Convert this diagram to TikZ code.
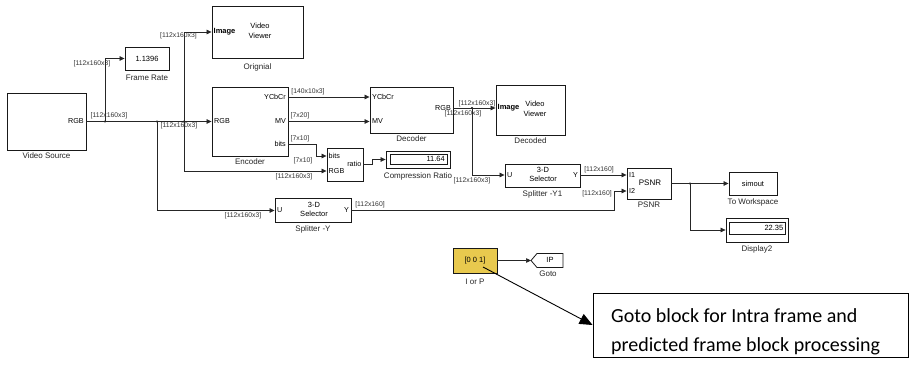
\documentclass[tikz,border=0pt]{standalone}
\usepackage{fontspec}
\setmainfont{Liberation Sans}
\newfontfamily\notefont{Carlito}
\usetikzlibrary{arrows.meta}
\definecolor{blockyellow}{RGB}{232,201,78}
\begin{document}
\begin{tikzpicture}[x=1pt,y=-1pt,
  blk/.style={draw=black!90, line width=0.9pt, inner sep=0pt},
  sig/.style={draw=black!85, line width=0.7pt, -{Triangle[length=5pt,width=4.5pt]}},
  wire/.style={draw=black!85, line width=0.7pt},
  lbl/.style={font=\fontsize{6.8}{7}\selectfont, text=black!80, inner sep=0pt},
  port/.style={font=\fontsize{7.2}{8}\selectfont, inner sep=0pt},
  bname/.style={font=\fontsize{8}{9}\selectfont, text=black!85, inner sep=0pt},
  jdot/.style={circle, fill=black, inner sep=0pt, minimum size=2.4pt},
  note/.style={font=\notefont\fontsize{20}{22}\selectfont, inner sep=0pt, anchor=base west},
]
\fill[white] (0,0) rectangle (912,374);
\useasboundingbox (0,0) rectangle (912,374);

% ---------------- blocks ----------------
\node[blk, minimum width=79pt, minimum height=57pt] (vsrc) at (46.5,121.5) {};
\node[port, anchor=east] (vsrcrgb) at (84,121.5) {RGB};
\node[bname] (vsrcname) at (46.5,156) {Video Source};

\node[blk, minimum width=44pt, minimum height=23pt, font=\fontsize{7.5}{8}\selectfont] (frate) at (147,58.5) {1.1396};
\node[bname] (fratename) at (147,77.5) {Frame Rate};

\node[blk, minimum width=91pt, minimum height=52pt] (vorig) at (257.5,32) {};
\node[port, anchor=west, font=\bfseries\fontsize{7.5}{8}\selectfont] (vorigimg) at (213.5,32) {Image};
\node[port, align=center, font=\fontsize{7.5}{10}\selectfont] (vorigtxt) at (260,31) {Video\\Viewer};
\node[bname] (vorigname) at (257.5,67) {Orignial};

\node[blk, minimum width=76pt, minimum height=69pt] (enc) at (250,121.5) {};
\node[port, anchor=west] (encrgb) at (214,121.5) {RGB};
\node[port, anchor=east] (encycc) at (286,97) {YCbCr};
\node[port, anchor=east] (encmv) at (286,121.5) {MV};
\node[port, anchor=east] (encbits) at (286,144) {bits};
\node[bname] (encname) at (250,162) {Encoder};

\node[blk, minimum width=83pt, minimum height=46pt] (dec) at (411.5,110) {};
\node[port, anchor=west] (decycc) at (372,97) {YCbCr};
\node[port, anchor=west] (decmv) at (372,121.5) {MV};
\node[port, anchor=east] (decrgb) at (451,108) {RGB};
\node[bname] (decname) at (411.5,139) {Decoder};

\node[blk, minimum width=69pt, minimum height=50pt] (vdec) at (530.5,110) {};
\node[port, anchor=west, font=\bfseries\fontsize{7.5}{8}\selectfont] (vdecimg) at (497.5,108) {Image};
\node[port, align=center, font=\fontsize{7.5}{10}\selectfont] (vdectxt) at (535,109) {Video\\Viewer};
\node[bname] (vdecname) at (530.5,141) {Decoded};

\node[blk, minimum width=36pt, minimum height=33pt] (cr) at (345,164.5) {};
\node[port, anchor=west] (crbits) at (328.5,156) {bits};
\node[port, anchor=west] (crrgb) at (328.5,171) {RGB};
\node[port, anchor=east] (crratio) at (361.5,164) {ratio};

\node[blk, line width=0.8pt, minimum width=64pt, minimum height=17pt] (crdisp) at (418,159.5) {};
\node[blk, line width=0.6pt, minimum width=57pt, minimum height=10pt] (crdispin) at (418.5,159.5) {};
\node[port, anchor=east, font=\fontsize{7.5}{8}\selectfont] (crval) at (445,159) {11.64};
\node[bname] (crname) at (418,176) {Compression Ratio};

\node[blk, minimum width=75pt, minimum height=23pt] (sy1) at (542.5,175.5) {};
\node[port, anchor=west] (sy1u) at (507,175) {U};
\node[port, anchor=east] (sy1y) at (578,175) {Y};
\node[port, align=center, font=\fontsize{7.5}{9}\selectfont] (sy1txt) at (543,174) {3-D\\Selector};
\node[bname] (sy1name) at (542.5,194) {Splitter -Y1};

\node[blk, minimum width=76pt, minimum height=24pt] (sy) at (313,210.5) {};
\node[port, anchor=west] (syu) at (277,210) {U};
\node[port, anchor=east] (syy) at (349,210) {Y};
\node[port, align=center, font=\fontsize{7.5}{9}\selectfont] (sytxt) at (314,209.5) {3-D\\Selector};
\node[bname] (syname) at (313,229) {Splitter -Y};

\node[blk, minimum width=44pt, minimum height=31pt] (psnr) at (649,183.5) {};
\node[port, anchor=west] (psnri1) at (629,175) {I1};
\node[port, anchor=west] (psnri2) at (629,191) {I2};
\node[port, font=\fontsize{8}{9}\selectfont] (psnrtxt) at (650,182.5) {PSNR};
\node[bname] (psnrname) at (649,205) {PSNR};

\node[blk, minimum width=48pt, minimum height=23pt, font=\fontsize{7.5}{8}\selectfont] (tows) at (753,183.5) {simout};
\node[bname] (towsname) at (753,202) {To Workspace};

\node[blk, line width=0.8pt, minimum width=62pt, minimum height=24pt] (disp2) at (757,230) {};
\node[blk, line width=0.6pt, minimum width=56pt, minimum height=12pt] (disp2in) at (757.5,228.5) {};
\node[port, anchor=east, font=\fontsize{7.5}{8}\selectfont] (disp2val) at (783.5,228) {22.35};
\node[bname] (disp2name) at (757,249) {Display2};

\node[blk, fill=blockyellow, minimum width=44pt, minimum height=25pt, font=\fontsize{7.5}{8}\selectfont] (iorp) at (475,260.5) {[0 0 1]};
\node[bname] (iorpname) at (475,281.5) {I or P};

% Goto tag
\coordinate (gotoin) at (531,260.5);
\draw[line width=0.8pt, draw=black!90] (gotoin) -- (537,253.5) -- (563,253.5) -- (563,267.5) -- (537,267.5) -- cycle;
\node[port, font=\fontsize{7.5}{8}\selectfont] (gototxt) at (550,259.5) {IP};
\node[bname] (gotoname) at (548,274) {Goto};

% Note box
\node[draw=black, line width=0.9pt, minimum width=315pt, minimum height=64pt, inner sep=0pt] (note) at (750.5,325) {};
\node[note] (noteA) at (611,322) {Goto block for Intra frame and};
\node[note] (noteB) at (611,351) {predicted frame block processing};

% ---------------- junctions ----------------
\coordinate (j1) at (105,121.5);
\coordinate (j2) at (157,121.5);
\coordinate (j3) at (184,121.5);
\coordinate (j4) at (472,108);
\coordinate (j5) at (690,183.5);
\node[jdot] (d1) at (j1) {};
\node[jdot] (d2) at (j2) {};
\node[jdot] (d3) at (j3) {};
\node[jdot] (d4) at (j4) {};
\node[jdot] (d5) at (j5) {};

% ---------------- signals ----------------
\draw[sig] (vsrc.east) -- (enc.west);
\draw[sig] (j1) -- (j1 |- frate.west) -- (frate.west);
\draw[sig] (j2) -- (j2 |- sy.west) -- (sy.west);
\draw[sig] (j3) -- (j3 |- vorig.west) -- (vorig.west);
\draw[sig] (j3) -- (184,171) -- (cr.west |- crrgb);

\draw[sig] (enc.east |- encycc) -- (dec.west |- decycc);
\draw[sig] (enc.east |- encmv) -- (dec.west |- decmv);
\draw[sig] (enc.east |- encbits) -- (316,144) -- (316,156) -- (cr.west |- crbits);
\draw[sig] (cr.east |- crratio) -- (372,164) -- (372,159.5) -- (crdisp.west);

\draw[wire] (dec.east |- decrgb) -- (j4);
\draw[sig] (j4) -- (vdec.west |- decrgb);
\draw[sig] (j4) -- (472,175) -- (sy1.west |- sy1u);

\draw[sig] (sy1.east |- sy1y) -- (psnr.west |- psnri1);
\draw[sig] (sy.east |- syy) -- (614,210) -- (614,191) -- (psnr.west |- psnri2);

\draw[wire] (psnr.east) -- (j5);
\draw[sig] (j5) -- (tows.west);
\draw[sig] (j5) -- (j5 |- disp2.west) -- (disp2.west);

\draw[sig] (iorp.east |- gotoin) -- (gotoin);
\draw[draw=black, line width=0.9pt, -{Triangle[length=13pt,width=11pt]}] (483,267) -- (note.west);

% ---------------- signal dimensions ----------------
\node[lbl] (s1) at (109,115.5) {[112x160x3]};
\node[lbl] (s2) at (92,64) {[112x160x3]};
\node[lbl] (s3) at (179,125.5) {[112x160x3]};
\node[lbl] (s4) at (178.5,36) {[112x160x3]};
\node[lbl] (s5) at (294,177) {[112x160x3]};
\node[lbl] (s6) at (243,216) {[112x160x3]};
\node[lbl] (s7) at (308,92) {[140x10x3]};
\node[lbl] (s8) at (300,116) {[7x20]};
\node[lbl] (s9) at (300,139) {[7x10]};
\node[lbl] (s10) at (303,160.5) {[7x10]};
\node[lbl] (s11) at (477,103.5) {[112x160x3]};
\node[lbl] (s12) at (463,114) {[112x160x3]};
\node[lbl] (s13) at (472,180.5) {[112x160x3]};
\node[lbl] (s14) at (599,170) {[112x160]};
\node[lbl] (s15) at (597,194) {[112x160]};
\node[lbl] (s16) at (370,205) {[112x160]};
\end{tikzpicture}
\end{document}
